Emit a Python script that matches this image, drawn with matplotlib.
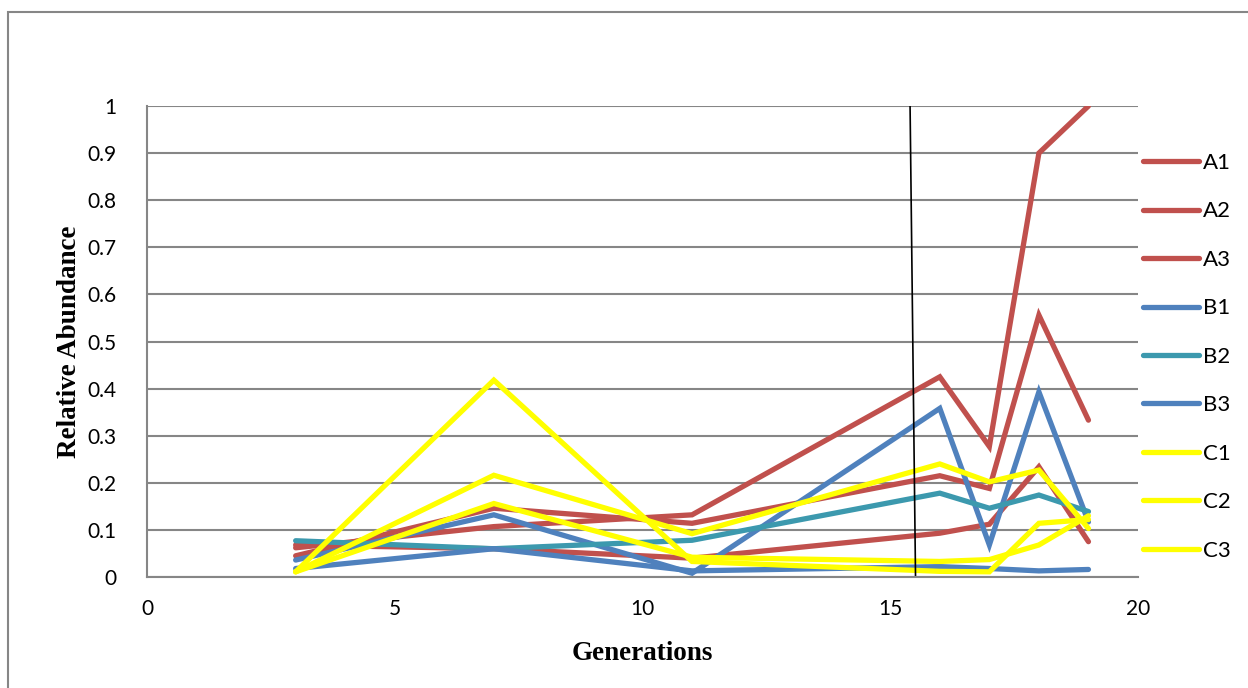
import matplotlib.pyplot as plt
from matplotlib.patches import Rectangle

# sampling generations
generations = [3, 7, 11, 16, 17, 18, 19]

# relative abundance per population
a1 = [0.062, 0.107, 0.132, 0.425, 0.277, 0.900, 1.000]
a2 = [0.045, 0.146, 0.114, 0.215, 0.188, 0.556, 0.333]
a3 = [0.068, 0.060, 0.040, 0.093, 0.112, 0.234, 0.075]
b1 = [0.036, 0.132, 0.008, 0.358, 0.068, 0.393, 0.117]
b2 = [0.077, 0.060, 0.078, 0.178, 0.146, 0.174, 0.139]
b3 = [0.018, 0.060, 0.013, 0.022, 0.018, 0.013, 0.016]
c1 = [0.011, 0.418, 0.033, 0.012, 0.011, 0.114, 0.122]
c2 = [0.011, 0.216, 0.092, 0.240, 0.202, 0.227, 0.103]
c3 = [0.011, 0.156, 0.042, 0.033, 0.037, 0.068, 0.130]

labels = ['A1', 'A2', 'A3', 'B1', 'B2', 'B3', 'C1', 'C2', 'C3']
series = [a1, a2, a3, b1, b2, b3, c1, c2, c3]
colors = ['#C0504D', '#C0504D', '#C0504D',
          '#4F81BD', '#3C99AE', '#4F81BD',
          '#FFFF00', '#FFFF00', '#FFFF00']

# hand-drawn divider line (x at top, x at bottom)
divider_x = [15.40, 15.51]
divider_y = [1.0, 0.0]

fig = plt.figure(figsize=(12.48, 6.88), dpi=100)
ax = fig.add_axes([147 / 1248, 1 - 577 / 688, 991 / 1248, 471 / 688])

# outer chart border
fig.patches.append(Rectangle((8 / 1248, -0.05), 1.1, 1 - 12 / 688 + 0.05,
                             transform=fig.transFigure, fill=False,
                             edgecolor='#868686', linewidth=1.5))

for vals, lab, col in zip(series, labels, colors):
    ax.plot(generations, vals, color=col, linewidth=3.8, label=lab,
            solid_capstyle='round', solid_joinstyle='miter')

ax.plot(divider_x, divider_y, color='black', linewidth=1.2)

ax.set_xlim(0, 20)
ax.set_ylim(0, 1)
ax.set_xticks([0, 5, 10, 15, 20])
ax.set_yticks([i / 10 for i in range(11)])
ax.set_yticklabels(['0', '0.1', '0.2', '0.3', '0.4', '0.5', '0.6', '0.7', '0.8', '0.9', '1'])
ax.yaxis.grid(True, color='#868686', linewidth=1.5)
ax.set_axisbelow(True)
for s in ['top', 'right']:
    ax.spines[s].set_visible(False)
for s in ['left', 'bottom']:
    ax.spines[s].set_color('#868686')
    ax.spines[s].set_linewidth(1.5)
ax.tick_params(length=0, labelsize=15, pad=0)
for t in ax.get_xticklabels():
    t.set_fontfamily('Lato')
for t in ax.get_yticklabels():
    t.set_fontfamily('Lato')
ax.tick_params(axis='y', pad=22)
ax.tick_params(axis='x', pad=16)

ax.set_xlabel('Generations', fontfamily='Liberation Serif', fontweight='bold',
              fontsize=19.5, labelpad=16)
ax.set_ylabel('Relative Abundance', fontfamily='Liberation Serif', fontweight='bold',
              fontsize=19.5, labelpad=4)

leg = ax.legend(loc='upper left', bbox_to_anchor=(0.9965, 0.919), frameon=False,
                handlelength=2.48, handletextpad=0.18, labelspacing=1.28,
                prop={'family': 'Lato', 'size': 16}, borderaxespad=0)

fig.savefig('out.png', dpi=100)
